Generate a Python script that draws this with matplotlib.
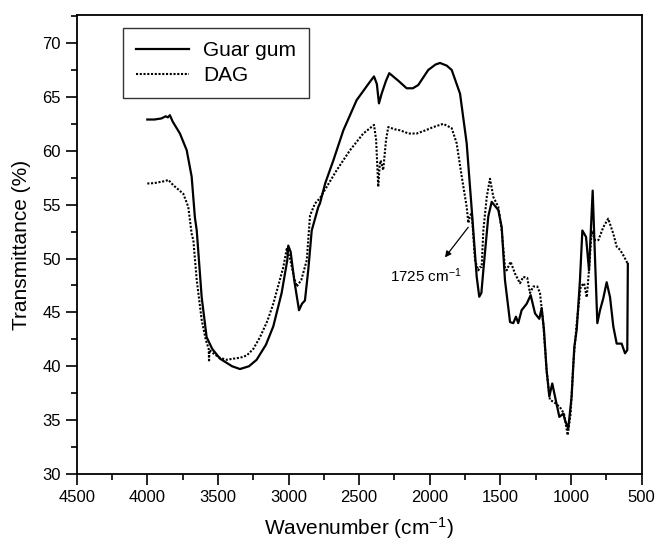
#!/usr/bin/env python3

import sys

import matplotlib
matplotlib.use("Agg")
from matplotlib import pyplot, ticker


# Guar gum spectrum (solid line): wavenumber (cm-1), transmittance (%)
GG_WN = [
    4000, 3950, 3900, 3870, 3854, 3840, 3820, 3769, 3721, 3686, 3663, 3650,
    3615, 3580, 3540, 3485, 3400, 3344, 3280, 3226, 3160, 3108, 3049, 3009,
    3002, 2985, 2960, 2926, 2905, 2884, 2860, 2836, 2789, 2778, 2740, 2683,
    2612, 2518, 2424, 2395, 2375, 2360, 2341, 2310, 2287, 2223, 2164, 2120,
    2082, 2011, 1960, 1928, 1880, 1845, 1786, 1739, 1703, 1668, 1650, 1635,
    1621, 1586, 1562, 1515, 1491, 1468, 1432, 1409, 1390, 1374, 1350, 1314,
    1286, 1255, 1225, 1208, 1192, 1173, 1154, 1133, 1114, 1083, 1055, 1043,
    1020, 996, 977, 960, 937, 920, 894, 873, 847, 831, 814, 795,
    772, 748, 724, 701, 677, 642, 618, 602, 598,
]
GG_T = [
    62.9, 62.9, 63.0, 63.2, 63.1, 63.3, 62.7, 61.6, 60.05, 57.6, 53.8, 52.6,
    46.4, 42.7, 41.6, 40.7, 40.0, 39.74, 40.0, 40.6, 42.0, 43.7, 46.8, 49.85,
    51.2, 50.6, 48.0, 45.2, 45.8, 46.1, 49.0, 52.6, 54.8, 55.1, 57.0, 59.1,
    61.9, 64.7, 66.4, 66.9, 66.2, 64.4, 65.3, 66.5, 67.2, 66.5, 65.8, 65.8,
    66.1, 67.5, 68.0, 68.15, 67.9, 67.5, 65.3, 60.7, 54.5, 48.3, 46.45, 46.8,
    48.9, 53.9, 55.26, 54.5, 52.9, 48.0, 44.1, 44.0, 44.6, 44.0, 45.2, 45.8,
    46.6, 44.9, 44.4, 45.4, 43.4, 39.6, 37.2, 38.4, 37.2, 35.3, 35.6, 35.0,
    34.2, 37.2, 41.8, 43.4, 48.0, 52.6, 52.0, 48.9, 56.3, 50.2, 44.0, 45.2,
    46.3, 47.8, 46.4, 43.7, 42.1, 42.1, 41.2, 41.5, 49.5,
]

# DAG spectrum (dotted line)
DAG_WN = [
    4000, 3950, 3910, 3870, 3851, 3830, 3816, 3780, 3745, 3710, 3686, 3674,
    3650, 3615, 3585, 3565, 3563, 3560, 3533, 3490, 3438, 3391, 3340, 3296,
    3250, 3202, 3150, 3108, 3037, 3013, 2990, 2960, 2942, 2910, 2871, 2848,
    2813, 2778, 2730, 2659, 2565, 2471, 2395, 2380, 2365, 2355, 2348, 2330,
    2310, 2294, 2250, 2211, 2150, 2093, 2030, 1975, 1905, 1845, 1810, 1774,
    1739, 1727, 1715, 1703, 1680, 1657, 1645, 1633, 1621, 1597, 1574, 1550,
    1515, 1491, 1468, 1456, 1428, 1397, 1362, 1338, 1310, 1291, 1267, 1239,
    1220, 1197, 1173, 1150, 1114, 1079, 1050, 1024, 1003, 984, 960, 932,
    908, 889, 873, 854, 831, 807, 772, 737, 701, 677, 653, 630, 598,
]
DAG_T = [
    56.96, 57.0, 57.1, 57.2, 57.3, 57.0, 56.8, 56.4, 56.0, 54.8, 52.3, 51.7,
    48.0, 44.3, 42.4, 41.6, 40.4, 41.5, 41.2, 40.8, 40.6, 40.7, 40.8, 41.0,
    41.6, 42.7, 44.2, 45.8, 49.2, 50.9, 50.0, 48.2, 47.4, 48.0, 49.85, 54.0,
    55.1, 55.6, 56.65, 58.2, 60.05, 61.6, 62.4, 61.0, 56.65, 58.6, 59.1, 58.2,
    61.0, 62.2, 62.0, 61.9, 61.6, 61.6, 61.9, 62.2, 62.5, 62.1, 60.7, 57.6,
    54.8, 53.3, 54.0, 54.2, 49.85, 48.9, 49.2, 49.2, 52.6, 55.7, 57.4, 55.7,
    54.8, 52.6, 49.2, 48.9, 49.7, 48.6, 47.7, 48.3, 48.2, 46.8, 47.4, 47.4,
    46.8, 44.0, 39.6, 36.9, 36.6, 36.2, 35.6, 33.6, 35.6, 40.3, 44.0, 47.4,
    47.7, 46.4, 48.9, 52.6, 51.7, 51.7, 52.9, 53.7, 52.3, 51.1, 50.8, 50.3, 49.5,
]

LABELS = ("Guar gum", "DAG")
PEAK_LABEL = "1725 cm$^{-1}$"
PEAK_WN, PEAK_T = 1728, 52.9


def plot():
    pyplot.rcParams["font.family"] = ["Liberation Sans", "DejaVu Sans"]
    pyplot.rcParams["mathtext.fontset"] = "custom"
    pyplot.rcParams["mathtext.rm"] = "Liberation Sans"
    pyplot.rcParams["mathtext.it"] = "Liberation Sans:italic"

    figure = pyplot.figure(figsize=(6.57, 5.42), dpi=100)
    axes = figure.add_axes([0.1167, 0.1255, 0.86, 0.8468])

    axes.plot(GG_WN, GG_T, color="black", lw=1.6, label=LABELS[0])
    axes.plot(DAG_WN, DAG_T, color="black", lw=1.5, ls=(0, (1, 0.8)),
              label=LABELS[1])

    # Peak annotation
    axes.annotate("", xy=(1893, 50.1), xytext=(PEAK_WN, PEAK_T),
                  arrowprops=dict(arrowstyle="-|>", color="black", lw=0.9,
                                  mutation_scale=9, shrinkA=0, shrinkB=0))
    axes.text(2281, 47.85, PEAK_LABEL, fontsize=11, ha="left", va="baseline")

    # Axes formatting
    axes.set_xlim(4500, 500)
    axes.set_ylim(30, 72.6)
    axes.xaxis.set_major_locator(ticker.MultipleLocator(500))
    axes.xaxis.set_minor_locator(ticker.MultipleLocator(250))
    axes.yaxis.set_major_locator(ticker.MultipleLocator(5))
    axes.yaxis.set_minor_locator(ticker.MultipleLocator(2.5))
    axes.tick_params(which="both", direction="out", top=False, right=False,
                     labelsize=12, width=1.2)
    axes.tick_params(which="major", length=8)
    axes.tick_params(which="minor", length=4)
    for spine in axes.spines.values():
        spine.set_linewidth(1.3)

    axes.set_xlabel("Wavenumber (cm$^{-1}$)", fontsize=15, labelpad=7)
    axes.set_ylabel("Transmittance (%)", fontsize=15, labelpad=8)

    legend = axes.legend(loc="upper left", bbox_to_anchor=(0.082, 0.971),
                         fontsize=15, frameon=True, fancybox=False,
                         handlelength=2.55, handletextpad=0.7,
                         borderpad=0.6, labelspacing=0.3, borderaxespad=0)
    legend.get_frame().set_edgecolor("black")
    legend.get_frame().set_linewidth(1.0)

    figure.savefig("out.png", dpi=100)


def main() -> int:
    plot()
    return 0


if __name__ == '__main__':
    sys.exit(main())
